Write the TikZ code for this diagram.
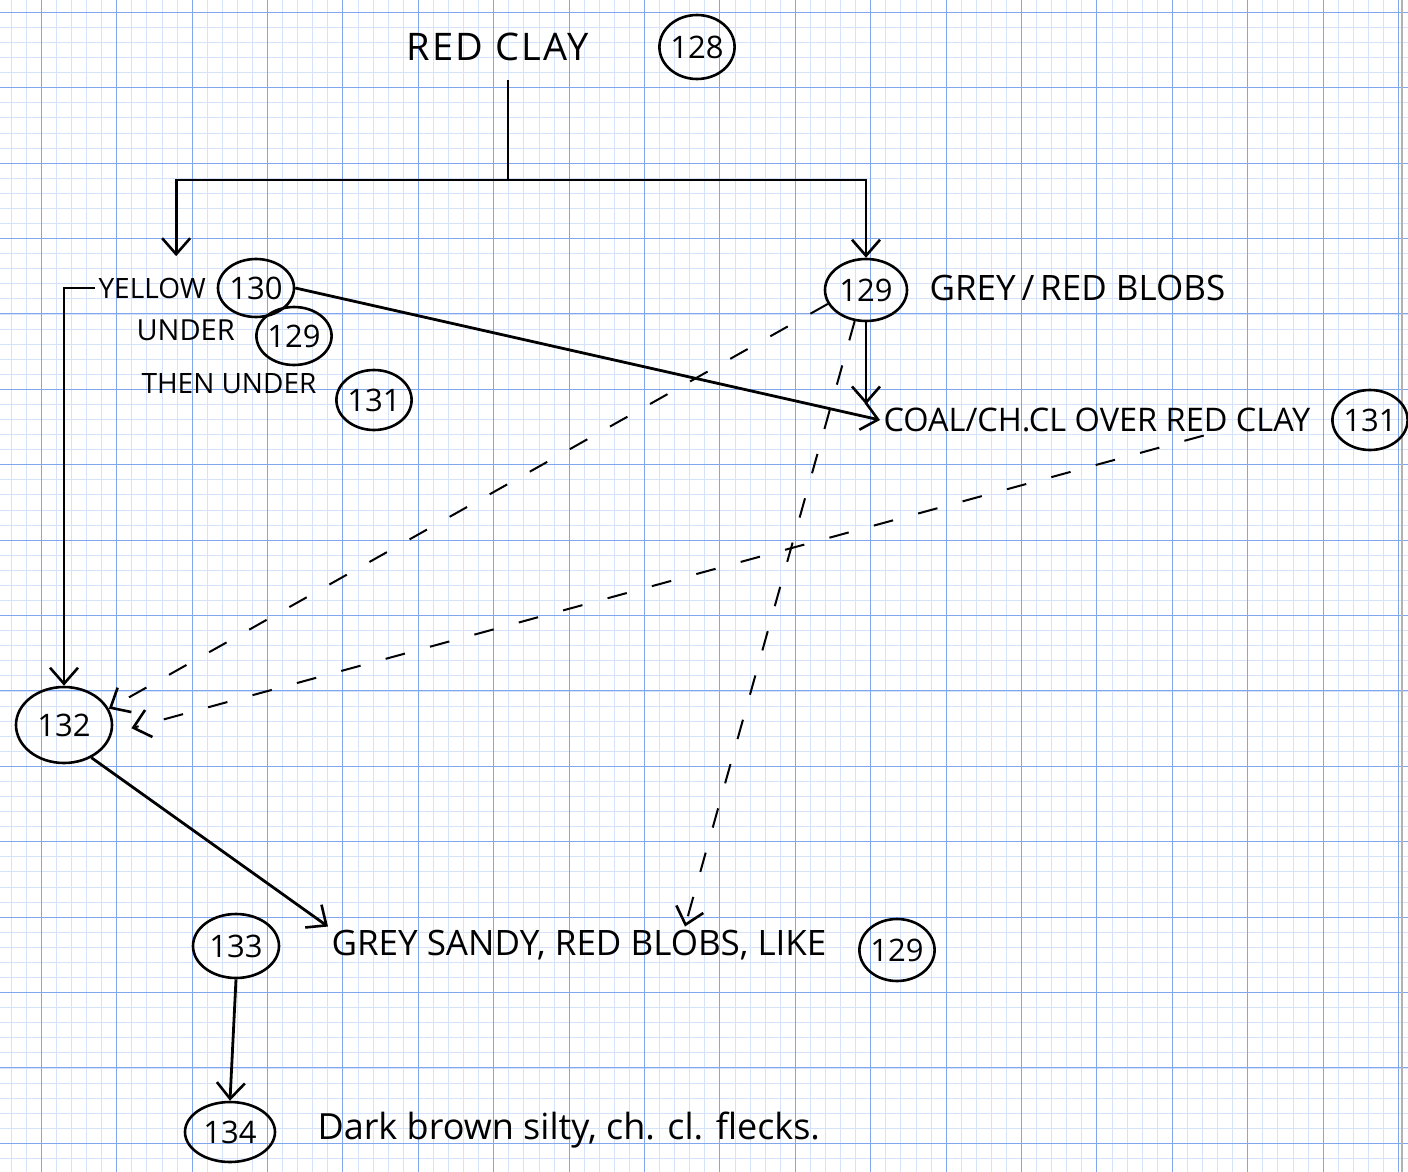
\documentclass[tikz,border=0pt]{standalone}
\usepackage{fontspec}
\setmainfont{Open Sans}
\usetikzlibrary{shapes.geometric,arrows.meta,positioning}
\definecolor{gridminor}{RGB}{212,226,250}
\definecolor{gridmajor}{RGB}{128,166,238}

\begin{document}
\begin{tikzpicture}[x=1pt,y=-1pt,
  txt/.style={anchor=west,font=\fontsize{#1}{#1}\selectfont},
  ctx/.style={ellipse,draw,line width=2.6pt,inner sep=0pt,font=\fontsize{31}{32}\selectfont},
  arr/.style={line width=2.8pt,-{Straight Barb[length=16pt,width=28pt,line width=2.6pt]}},
  dasharr/.style={arr,line width=2pt,dash pattern=on 20pt off 26pt}]
  \useasboundingbox (0,0) rectangle (1408,1172);
  % graph paper
  \fill[white] (0,0) rectangle (1408,1172);
  \foreach \i in {0,...,93} {
    \draw[gridminor,line width=0.8pt] ({11.1+\i*15.08},0) -- ++(0,1172);
  }
  \foreach \i in {0,...,77} {
    \draw[gridminor,line width=0.8pt] (0,{12.3+\i*15.08}) -- ++(1408,0);
  }
  \foreach \i in {0,...,18} {
    \draw[gridmajor,line width=1.1pt] ({41.3+\i*75.4},0) -- ++(0,1172);
  }
  \foreach \i in {0,...,15} {
    \draw[gridmajor,line width=1.1pt] (0,{12.3+\i*75.4}) -- ++(1408,0);
  }
  \draw[black!30,line width=1.5pt] (1402,0) -- (1402,1172);

  % contexts
  \node[txt=38] (rc) at (403,47) {\addfontfeatures{LetterSpace=6}RED CLAY};
  \node[ctx,minimum width=74pt,minimum height=64pt] (c128) at (697,47) {128};

  \node[txt=28] (yel) at (95,288) {YELLOW};
  \node[ctx,minimum width=76pt,minimum height=58pt] (c130) at (256,288) {130};
  \node[txt=29] (und) at (133,330) {UNDER};
  \node[ctx,minimum width=68pt,minimum height=58pt] (c129a) at (294,336) {129};
  \node[txt=28] (thn) at (138,384) {THEN UNDER};
  \node[ctx,minimum width=64pt,minimum height=60pt] (c131a) at (374,400) {131};

  \node[ctx,minimum width=82pt,minimum height=62pt] (c129) at (866,290) {129};
  \node[txt=35] (grey) at (926,288) {GREY\,/\,RED BLOBS};
  \node[txt=32.5] (coal) at (880,420) {COAL/CH.CL OVER RED CLAY};
  \node[ctx,minimum width=56pt,minimum height=60pt] (c131) at (1370,420) {131};

  \node[ctx,minimum width=96pt,minimum height=76pt] (c132) at (64,725) {132};

  \node[ctx,minimum width=86pt,minimum height=64pt] (c133) at (236,946) {133};
  \node[txt=35] (sandy) at (328,945) {GREY SANDY, RED BLOBS, LIKE};
  \node[ctx,minimum width=62pt,minimum height=62pt] (c129b) at (897,950) {129};

  \node[ctx,minimum width=90pt,minimum height=60pt] (c134) at (230,1132) {134};
  \node[txt=36] (dark) at (314,1130) {Dark brown silty, ch. cl. flecks.};

  % connectors
  \coordinate (split) at (508,180);
  \draw[line width=2.8pt] (508,80) -- (split);
  \draw[arr,shorten >=18pt] (split) -| ([xshift=24pt]yel.north);
  \draw[arr] (split) -| (c129.north);
  \draw[arr] (c129.south) -- (c129.south |- coal.north);
  \draw[arr] (c130.east) -- (coal.west);
  \draw[arr] (yel.west) -| (c132.north);
  \draw[dasharr] (c129.200) -- (c132.20);
  \draw[dasharr,shorten >=20pt] ([xshift=-110pt]coal.south east) -- (c132.-10);
  \draw[dasharr] (c129.250) -- ([xshift=106pt]sandy.north);
  \draw[arr] (c132.-50) -- (sandy.north west);
  \draw[arr] (c133.south) -- (c134.north);
\end{tikzpicture}
\end{document}
